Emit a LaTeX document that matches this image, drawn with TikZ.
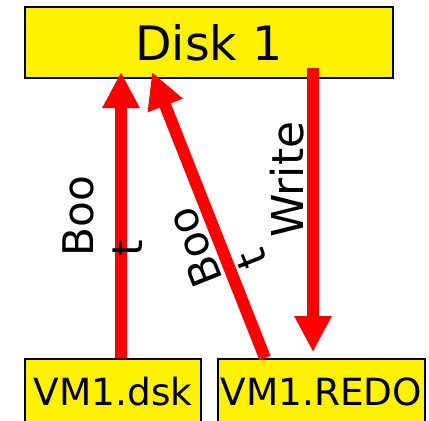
\documentclass[tikz,border=0pt]{standalone}
\usepackage{fontspec}
\setmainfont{DejaVu Sans}
\usetikzlibrary{arrows.meta}

\begin{document}
\begin{tikzpicture}[
    box/.style={draw, line width=0.04cm, fill=yellow, inner sep=0pt},
    diskbox/.style={box, minimum width=7.36cm, minimum height=1.42cm, font=\fontsize{27}{32}\selectfont},
    filebox/.style={box, minimum height=1.32cm, font=\fontsize{21.3}{25}\selectfont},
    io/.style={red, line width=0.24cm, -{Triangle[width=0.7cm, length=0.72cm]}},
    tag/.style={inner sep=0pt, anchor=north west, align=left, font=\fontsize{24}{27.8}\selectfont}
]
    \useasboundingbox (0,0) rectangle (8.58,-8.4);

    % Boxes
    \node[diskbox] (disk1) at (4.18,-0.85) {Disk 1};
    \node[filebox, minimum width=3.52cm] (dsk) at (2.26,-7.84) {VM1.dsk};
    \node[filebox, minimum width=4.13cm] (redo) at (6.425,-7.84) {VM1.REDO};

    % Arrows
    \draw[io] ([xshift=0.16cm]dsk.north) -- ([xshift=-1.76cm, yshift=0.14cm]disk1.south);
    \draw[io] ([xshift=-1.125cm]redo.north) -- ([xshift=-1.14cm, yshift=0.14cm]disk1.south);
    \draw[io] ([xshift=2.08cm, yshift=0.22cm]disk1.south) -- ([xshift=-0.165cm, yshift=0.12cm]redo.north);

    % Labels
    \node[tag, rotate=90] (boot1) at (1.25,-5.14) {Boo\\t};
    \node[tag, rotate=111.6] (boot2) at (3.886,-5.822) {Boo\\t};
    \node[tag, rotate=90, font=\fontsize{25}{30}\selectfont] (write) at (5.40,-4.76) {Write};
\end{tikzpicture}
\end{document}
